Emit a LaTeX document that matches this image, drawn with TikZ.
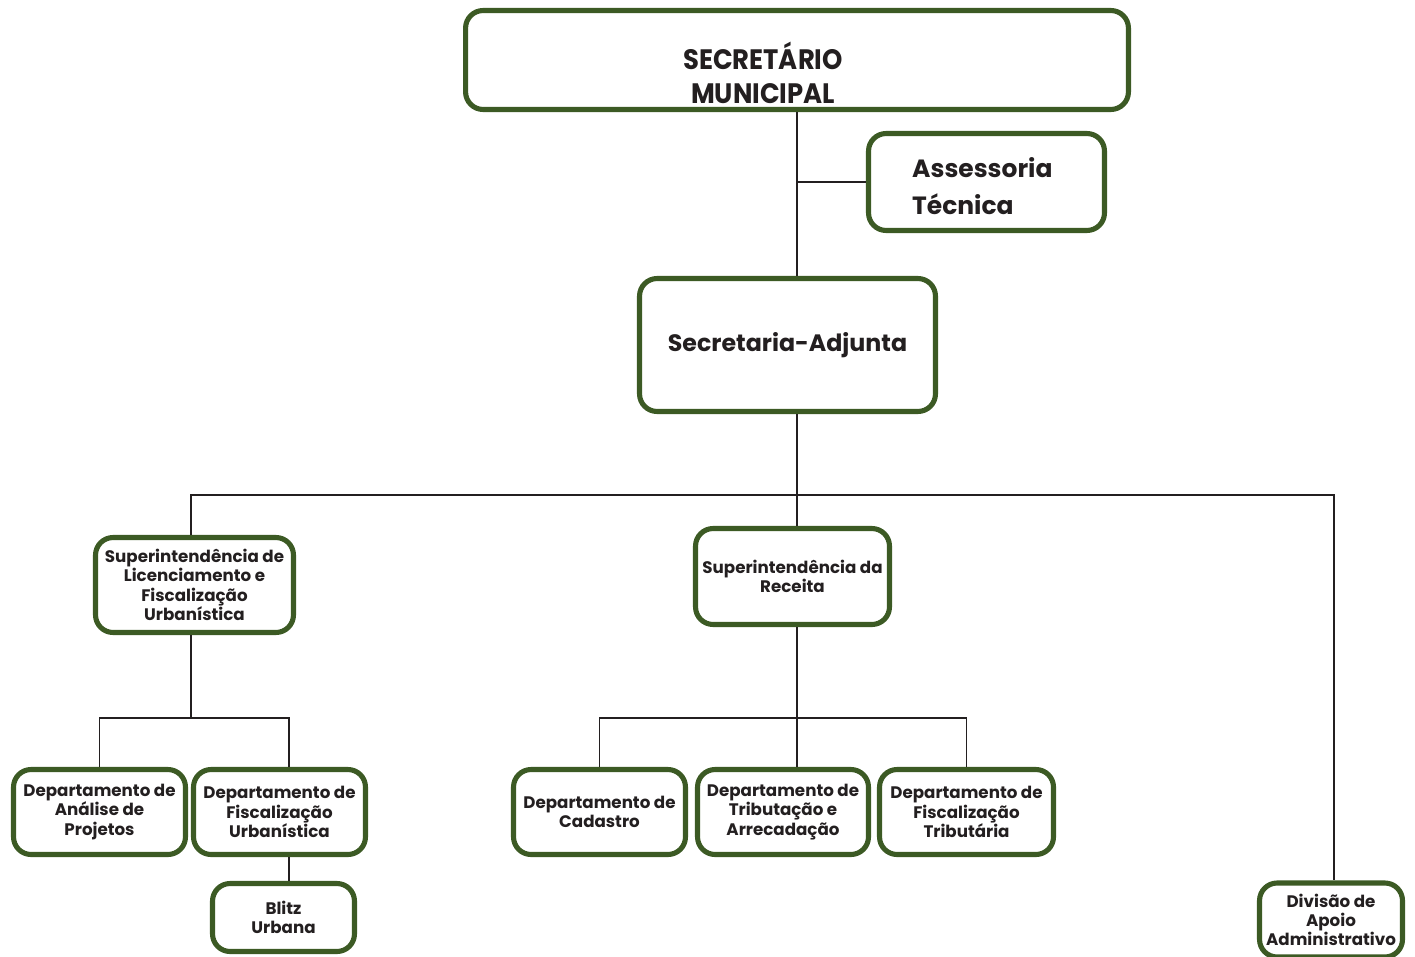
\documentclass[tikz,border=0pt]{standalone}
\usepackage{fontspec}
\setmainfont{Poppins}
\newfontfamily\capsfont[FakeStretch=0.92]{Poppins}
\definecolor{boxgreen}{HTML}{3C5A24}
\definecolor{inkgray}{HTML}{231F20}

\begin{document}
\begin{tikzpicture}[x=0.02cm, y=-0.02cm,
  box/.style={draw=boxgreen, line width=2.9pt, rounded corners=10pt, fill=white, inner sep=0pt},
  small/.style={align=center, text=inkgray, font=\fontsize{9.5}{11}\selectfont\bfseries},
  dept/.style={box, small, minimum width=3.44cm, minimum height=1.7cm},
  link/.style={draw=inkgray, line width=1.1pt}]
  \useasboundingbox (0,0) rectangle (1415,956);

  % upper levels
  \node[box, minimum width=13.26cm, minimum height=1.98cm] (sec) at (797,60) {};
  \node[align=center, text=inkgray, font=\capsfont\fontsize{16}{19.5}\selectfont\bfseries] (sectxt) at (763,73) {SECRETÁRIO\\MUNICIPAL};
  \node[box, minimum width=4.72cm, minimum height=1.94cm] (ass) at (986.5,182) {};
  \node[anchor=west, align=left, text=inkgray, font=\fontsize{14.2}{21}\selectfont\bfseries] (asstxt) at (906,186) {Assessoria\\Técnica};
  \node[box, minimum width=5.92cm, minimum height=2.66cm, text=inkgray, font=\fontsize{13.5}{16}\selectfont\bfseries] (adj) at (787.5,345) {Secretaria-Adjunta};

  % superintendencias
  \node[box, small, minimum width=3.96cm, minimum height=1.9cm] (supl) at (194.5,585) {Superintendência de\\Licenciamento e\\Fiscalização\\Urbanística};
  \node[box, small, minimum width=3.88cm, minimum height=1.92cm] (supr) at (792.5,576.5) {Superintendência da\\Receita};
  \node[box, small, minimum width=2.86cm, minimum height=1.48cm] (div) at (1331,920) {Divisão de\\Apoio\\Administrativo};

  % departamentos
  \node[dept] (dana) at (99.5,812) {Departamento de\\Análise de\\Projetos};
  \node[dept] (dfur) at (279.5,812) {Departamento de\\Fiscalização\\Urbanística};
  \node[box, small, minimum width=2.84cm, minimum height=1.36cm] (blitz) at (283.5,917.5) {Blitz\\Urbana};
  \node[dept] (dcad) at (599.5,812) {Departamento de\\Cadastro};
  \node[dept, minimum width=3.42cm] (dtri) at (783,812) {Departamento de\\Tributação e\\Arrecadação};
  \node[dept, minimum width=3.48cm] (dfti) at (966.5,812) {Departamento de\\Fiscalização\\Tributária};

  \coordinate (bus) at (797,495);
  \coordinate (lbus) at (191,718);
  \coordinate (rbus) at (797,718);

  % connectors
  \draw[link] (sec.south) -- (sec.south |- adj.north);
  \draw[link] (ass.west) -- (ass.west -| sec.south);
  \draw[link] (sec.south |- adj.south) -- (sec.south |- supr.north);
  \draw[link] (lbus |- supl.north) |- (bus) -| ([xshift=0.06cm]div.north);
  \draw[link] (lbus |- supl.south) -- (lbus);
  \draw[link] (dana.north) |- (lbus) -| ([xshift=0.19cm]dfur.north);
  \draw[link] ([xshift=0.11cm]blitz.north) -- ([xshift=0.11cm]blitz.north |- dfur.south);
  \draw[link] (rbus |- supr.south) -- (rbus |- dtri.north);
  \draw[link] (dcad.north) |- (rbus) -| (dfti.north);
\end{tikzpicture}
\end{document}
